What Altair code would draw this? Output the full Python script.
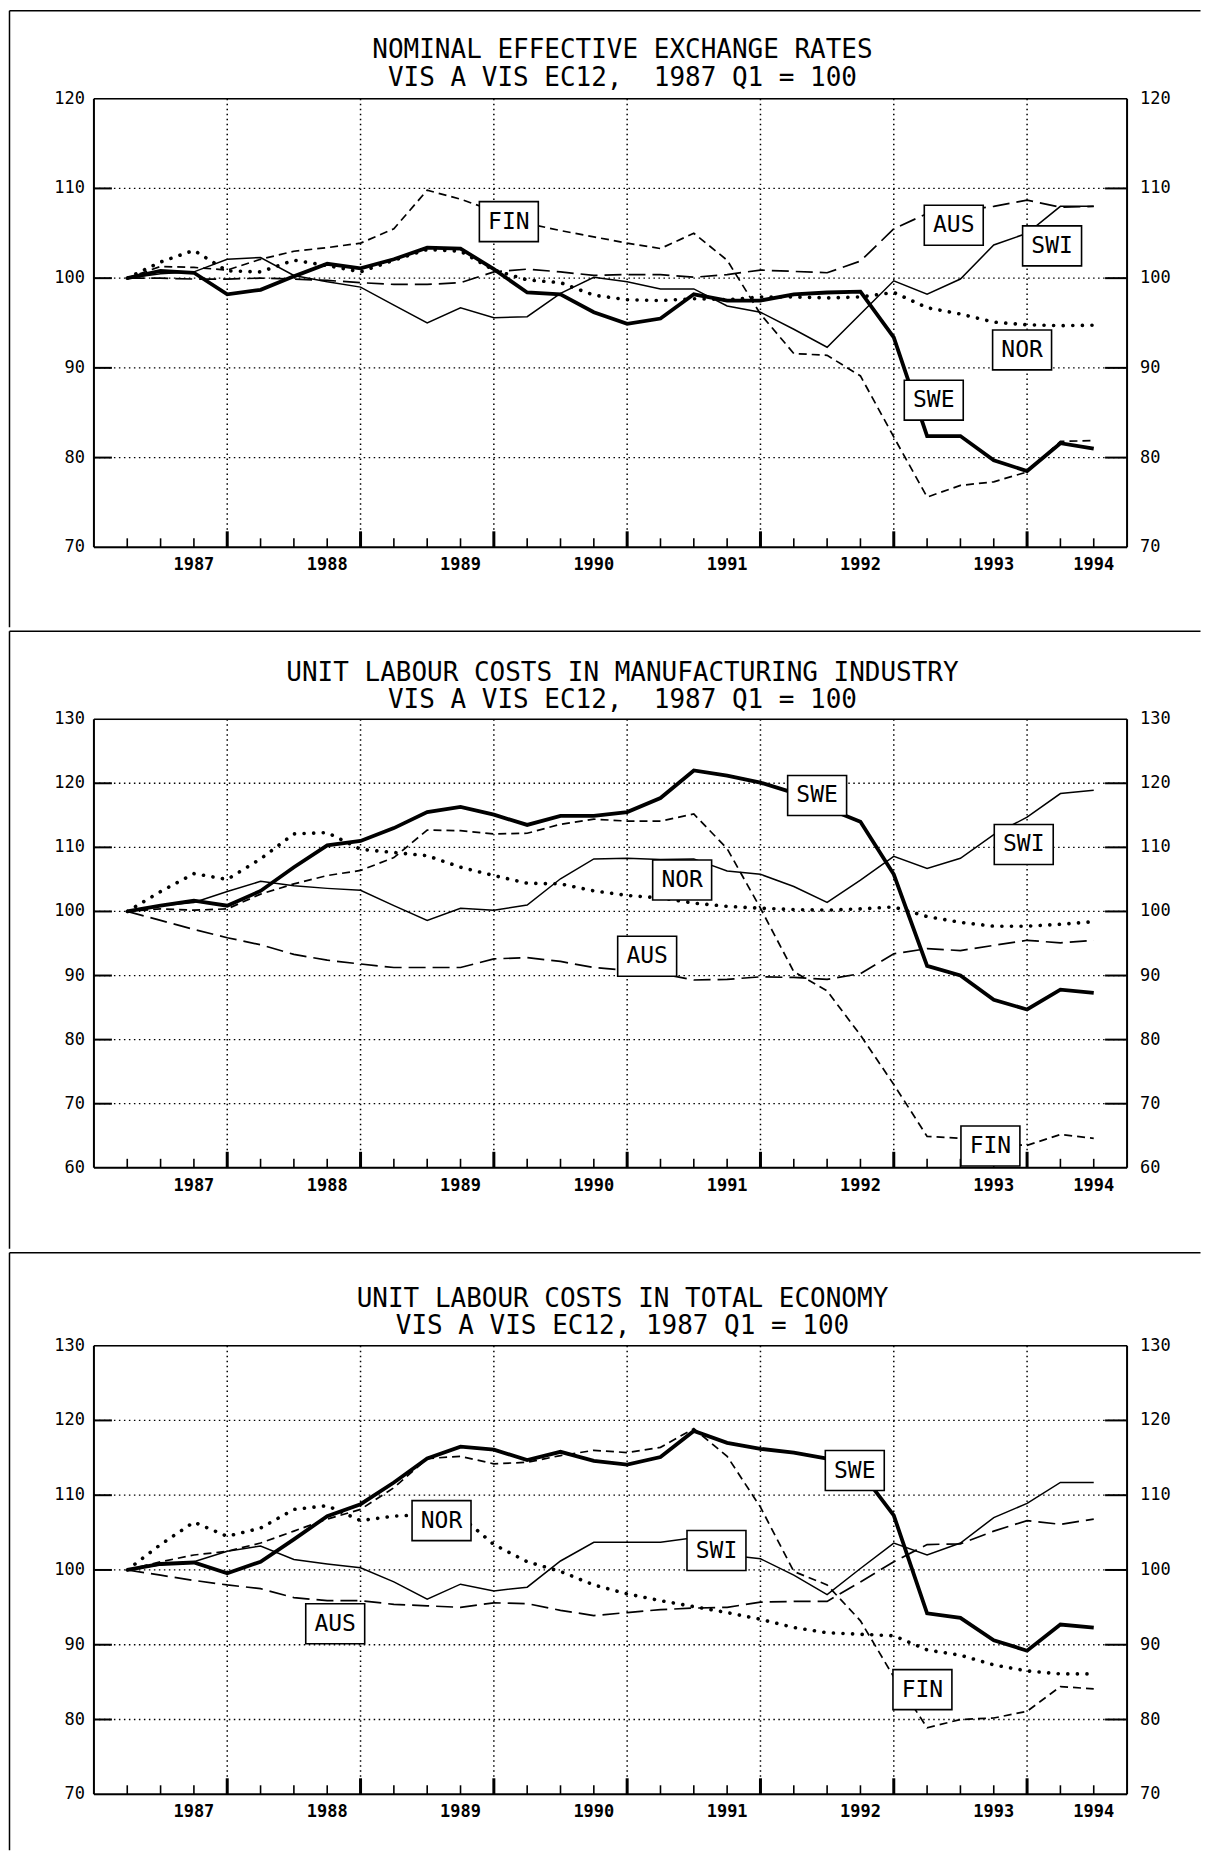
import altair as alt
import pandas as pd

# ---------------- data ----------------
quarters = list(range(30))  # 1987 Q1 ... 1994 Q2
countries = ["AUS", "FIN", "NOR", "SWI", "SWE"]

year_labels = ["1987", "1988", "1989", "1990", "1991", "1992", "1993", "1994"]
year_label_pos = [2, 6, 10, 14, 18, 22, 26, 29]
major_ticks = [3, 7, 11, 15, 19, 23, 27]

# Panel 1: nominal effective exchange rates
p1_swe = [100, 100.8, 100.6, 98.2, 98.7, 100.2, 101.6, 101.1, 102.1, 103.4, 103.3, 101.0, 98.4, 98.2, 96.2,
          94.9, 95.5, 98.2, 97.5, 97.5, 98.2, 98.4, 98.5, 93.4, 82.4, 82.4, 79.7, 78.5, 81.6, 81.0]
p1_swi = [100, 100.5, 100.7, 102.1, 102.3, 100.3, 99.6, 99.0, 97.0, 95.0, 96.7, 95.6, 95.7, 98.3, 100.1,
          99.6, 98.8, 98.8, 96.9, 96.2, 94.3, 92.3, 96.0, 99.7, 98.2, 99.9, 103.7, 105.0, 108.0, 108.0]
p1_fin = [100, 101.3, 101.2, 100.9, 102.1, 103.0, 103.4, 103.9, 105.5, 109.8, 108.8, 107.5, 106.1, 105.3, 104.6,
          103.9, 103.3, 105.0, 102.0, 96.0, 91.6, 91.4, 89.1, 82.3, 75.6, 76.9, 77.3, 78.4, 81.8, 81.9]
p1_aus = [100, 100.0, 99.9, 99.9, 100.0, 99.9, 99.75, 99.5, 99.3, 99.3, 99.5, 100.7, 101.0, 100.7, 100.3,
          100.4, 100.4, 100.1, 100.4, 100.9, 100.75, 100.6, 101.9, 105.5, 107.2, 107.5, 108.0, 108.7, 107.9, 108.0]
p1_nor = [100, 101.8, 103.1, 100.8, 100.7, 102.0, 101.4, 100.7, 102.0, 103.2, 103.0, 100.9, 99.8, 99.5, 98.1,
          97.6, 97.5, 97.7, 97.6, 97.9, 97.9, 97.8, 97.9, 98.4, 96.7, 96.0, 95.1, 94.8, 94.7, 94.75]

# Panel 2: unit labour costs in manufacturing industry
p2_swe = [100, 100.9, 101.7, 100.9, 103.2, 106.9, 110.3, 111.0, 113.0, 115.5, 116.3, 115.1, 113.5, 114.9, 114.9,
          115.5, 117.7, 122.0, 121.2, 120.1, 118.5, 116.1, 114.0, 105.8, 91.5, 90.0, 86.2, 84.7, 87.8, 87.3]
p2_swi = [100, 100.9, 101.4, 103.1, 104.7, 104.0, 103.6, 103.3, 100.9, 98.6, 100.5, 100.2, 101.0, 105.1, 108.2,
          108.3, 108.1, 108.2, 106.3, 105.8, 103.9, 101.4, 104.9, 108.6, 106.7, 108.3, 112.0, 114.7, 118.4, 118.9]
p2_fin = [100, 100.4, 100.2, 100.4, 102.7, 104.3, 105.6, 106.4, 108.4, 112.7, 112.6, 112.1, 112.2, 113.6, 114.4,
          114.1, 114.1, 115.2, 109.8, 100.5, 90.6, 87.6, 80.7, 73.0, 64.9, 64.6, 63.8, 63.5, 65.2, 64.6]
p2_aus = [100, 98.6, 97.2, 95.9, 94.8, 93.3, 92.4, 91.8, 91.25, 91.25, 91.25, 92.6, 92.8, 92.2, 91.25,
          90.8, 90.3, 89.3, 89.4, 89.8, 89.7, 89.4, 90.3, 93.4, 94.2, 93.9, 94.7, 95.5, 95.1, 95.5]
p2_nor = [100, 103.1, 105.9, 105.0, 108.2, 112.1, 112.3, 109.7, 109.2, 108.7, 106.9, 105.6, 104.4, 104.3, 103.2,
          102.5, 102.1, 101.3, 100.8, 100.5, 100.3, 100.2, 100.4, 100.7, 99.2, 98.3, 97.7, 97.7, 98.0, 98.4]

# Panel 3: unit labour costs in total economy
p3_swe = [100, 100.8, 101.0, 99.55, 101.1, 104.1, 107.2, 108.8, 111.7, 114.9, 116.5, 116.1, 114.7, 115.8, 114.6,
          114.1, 115.1, 118.6, 117.0, 116.2, 115.7, 114.9, 113.2, 107.3, 94.2, 93.6, 90.6, 89.2, 92.7, 92.3]
p3_swi = [100, 100.7, 101.1, 102.5, 103.2, 101.4, 100.8, 100.3, 98.4, 96.1, 98.1, 97.2, 97.7, 101.2, 103.7,
          103.7, 103.7, 104.3, 102.0, 101.5, 99.3, 96.7, 100.2, 103.6, 102.0, 103.6, 107.0, 108.9, 111.7, 111.7]
p3_fin = [100, 101.1, 102.0, 102.5, 103.6, 105.2, 106.8, 108.1, 111.0, 114.9, 115.2, 114.2, 114.4, 115.3, 116.0,
          115.7, 116.4, 118.9, 115.2, 108.4, 99.8, 98.0, 93.2, 85.7, 78.9, 80.0, 80.2, 81.1, 84.4, 84.1]
p3_aus = [100, 99.3, 98.6, 98.0, 97.5, 96.3, 95.9, 95.9, 95.4, 95.2, 95.0, 95.6, 95.5, 94.6, 93.9,
          94.3, 94.7, 94.9, 95.0, 95.7, 95.8, 95.8, 98.4, 101.1, 103.4, 103.5, 105.2, 106.6, 106.1, 106.8]
p3_nor = [100, 103.4, 106.4, 104.5, 105.6, 108.1, 108.6, 106.6, 107.2, 107.4, 107.2, 103.4, 101.1, 99.8, 98.0,
          96.8, 95.9, 95.1, 94.3, 93.4, 92.3, 91.6, 91.4, 91.2, 89.3, 88.6, 87.3, 86.5, 86.1, 86.1]

# label boxes (text, quarter index, value)
p1_box_text = ["FIN", "AUS", "SWI", "NOR", "SWE"]
p1_box_q = [11.45, 24.8, 27.75, 26.85, 24.2]
p1_box_v = [106.3, 105.9, 103.6, 92.0, 86.4]

p2_box_text = ["SWE", "NOR", "AUS", "SWI", "FIN"]
p2_box_q = [20.7, 16.65, 15.6, 26.9, 25.9]
p2_box_v = [118.1, 104.9, 93.0, 110.45, 63.4]

p3_box_text = ["NOR", "AUS", "SWE", "SWI", "FIN"]
p3_box_q = [9.43, 6.24, 21.83, 17.68, 23.86]
p3_box_v = [106.6, 92.8, 113.3, 102.6, 84.0]

p1_title = ["NOMINAL EFFECTIVE EXCHANGE RATES", "VIS A VIS EC12,\u00a0 1987 Q1 = 100"]
p2_title = ["UNIT LABOUR COSTS IN MANUFACTURING INDUSTRY", "VIS A VIS EC12,\u00a0 1987 Q1 = 100"]
p3_title = ["UNIT LABOUR COSTS IN TOTAL ECONOMY", "VIS A VIS EC12, 1987 Q1 = 100"]

p1_yticks = [70, 80, 90, 100, 110, 120]
p2_yticks = [60, 70, 80, 90, 100, 110, 120, 130]
p3_yticks = [70, 80, 90, 100, 110, 120, 130]

# ---------------- styling ----------------
MONO = "DejaVu Sans Mono"
W = 1034
H = 449
LEFT_OFF = 84.5
RIGHT_EXT = 1107.5

styles = {
    "SWE": dict(strokeWidth=3.8),
    "SWI": dict(strokeWidth=1.5),
    "FIN": dict(strokeWidth=1.7, strokeDash=[8, 5]),
    "AUS": dict(strokeWidth=1.7, strokeDash=[17, 7]),
    "NOR": dict(strokeWidth=3.6, strokeDash=[0.1, 9.5], strokeCap="round"),
}


def panel(title, yticks, series, box_text, box_q, box_v, top_off, bottom_ext, title_y):
    xs = alt.Scale(domain=[-1, 30], nice=False, zero=False)
    ys = alt.Scale(domain=[yticks[0], yticks[-1]], nice=False, zero=False)

    def X(f):
        return alt.X(f, type="quantitative", scale=xs, axis=None)

    def Y(f):
        return alt.Y(f, type="quantitative", scale=ys, axis=None)

    grid_df = pd.DataFrame({"v": yticks[1:-1]})
    ylab_df = pd.DataFrame({"v": yticks, "t": [str(v) for v in yticks]})
    major_df = pd.DataFrame({"q": major_ticks})
    minor_df = pd.DataFrame({"q": [q for q in quarters if q not in major_ticks]})
    xlab_df = pd.DataFrame({"q": year_label_pos, "t": year_labels})
    one = pd.DataFrame({"a": [0]})

    layers = []
    # dotted grid
    layers.append(alt.Chart(grid_df).mark_rule(color="black", strokeWidth=1.3, strokeDash=[1.5, 3.5]).encode(
        y=Y("v"), x=alt.value(0), x2=alt.value(W)))
    layers.append(alt.Chart(major_df).mark_rule(color="black", strokeWidth=1.5, strokeDash=[1.5, 3.5]).encode(
        x=X("q"), y=alt.value(0), y2=alt.value(H)))
    # inward y ticks
    layers.append(alt.Chart(grid_df).mark_rule(color="black", strokeWidth=2).encode(
        y=Y("v"), x=alt.value(0), x2=alt.value(18)))
    layers.append(alt.Chart(grid_df).mark_rule(color="black", strokeWidth=2).encode(
        y=Y("v"), x=alt.value(W - 22), x2=alt.value(W)))
    # inward x ticks
    layers.append(alt.Chart(minor_df).mark_rule(color="black", strokeWidth=1.6).encode(
        x=X("q"), y=alt.value(H), y2=alt.value(H - 9)))
    layers.append(alt.Chart(major_df).mark_rule(color="black", strokeWidth=3).encode(
        x=X("q"), y=alt.value(H), y2=alt.value(H - 16)))
    # plot frame
    layers.append(alt.Chart(one).mark_rule(color="black", strokeWidth=1.5).encode(
        x=alt.value(0), x2=alt.value(W), y=alt.value(0)))
    layers.append(alt.Chart(one).mark_rule(color="black", strokeWidth=2).encode(
        x=alt.value(0), x2=alt.value(W), y=alt.value(H)))
    layers.append(alt.Chart(one).mark_rule(color="black", strokeWidth=2).encode(
        x=alt.value(0), y=alt.value(0), y2=alt.value(H)))
    layers.append(alt.Chart(one).mark_rule(color="black", strokeWidth=2).encode(
        x=alt.value(W), y=alt.value(0), y2=alt.value(H)))
    # axis labels
    layers.append(alt.Chart(ylab_df).mark_text(align="right", baseline="middle", font=MONO, fontSize=17,
                                               color="black").encode(
        y=Y("v"), x=alt.value(-9), text="t:N"))
    layers.append(alt.Chart(ylab_df).mark_text(align="left", baseline="middle", font=MONO, fontSize=17,
                                               color="black").encode(
        y=Y("v"), x=alt.value(W + 13), text="t:N"))
    layers.append(alt.Chart(xlab_df).mark_text(align="center", baseline="middle", font=MONO, fontSize=17,
                                               fontWeight="bold", color="black").encode(
        x=X("q"), y=alt.value(H + 18), text="t:N"))

    for c in countries:
        df = pd.DataFrame({"q": quarters, "v": series[c]})
        layers.append(alt.Chart(df).mark_line(color="black", **styles[c]).encode(x=X("q"), y=Y("v")))

    box_df = pd.DataFrame({"q": box_q, "v": box_v, "t": box_text})
    layers.append(alt.Chart(box_df).mark_rect(width=59, height=40, fill="white", stroke="black",
                                              strokeWidth=1.6).encode(x=X("q"), y=Y("v")))
    layers.append(alt.Chart(box_df).mark_text(align="center", baseline="middle", font=MONO, fontSize=23,
                                              color="black").encode(x=X("q"), y=Y("v"), text="t:N"))

    for t, ty in zip(title, title_y):
        layers.append(alt.Chart(pd.DataFrame({"t": [t]})).mark_text(
            align="center", baseline="middle", font=MONO, fontSize=26, color="black").encode(
            x=alt.value(W / 2 + 12), y=alt.value(ty), text="t:N"))

    # page borders
    layers.append(alt.Chart(one).mark_rule(color="black", strokeWidth=1.5).encode(
        x=alt.value(-LEFT_OFF), x2=alt.value(RIGHT_EXT), y=alt.value(-top_off)))
    layers.append(alt.Chart(one).mark_rule(color="black", strokeWidth=1.5).encode(
        x=alt.value(-LEFT_OFF), y=alt.value(-top_off), y2=alt.value(bottom_ext)))

    return alt.layer(*layers).properties(width=W, height=H)


s1 = {"SWE": p1_swe, "SWI": p1_swi, "FIN": p1_fin, "AUS": p1_aus, "NOR": p1_nor}
s2 = {"SWE": p2_swe, "SWI": p2_swi, "FIN": p2_fin, "AUS": p2_aus, "NOR": p2_nor}
s3 = {"SWE": p3_swe, "SWI": p3_swi, "FIN": p3_fin, "AUS": p3_aus, "NOR": p3_nor}

c1 = panel(p1_title, p1_yticks, s1, p1_box_text, p1_box_q, p1_box_v, 88, 529, [-48.5, -21])
c2 = panel(p2_title, p2_yticks, s2, p2_box_text, p2_box_q, p2_box_v, 88, 530, [-46, -19])
c3 = panel(p3_title, p3_yticks, s3, p3_box_text, p3_box_q, p3_box_v, 93, 505, [-46.5, -19.5])

chart = alt.vconcat(c1, c2, c3, spacing=0, bounds="full").properties(padding=0).configure_view(
    strokeWidth=0).configure(background="white")

chart.save("out.html", embed_options={"renderer": "svg", "actions": False})
